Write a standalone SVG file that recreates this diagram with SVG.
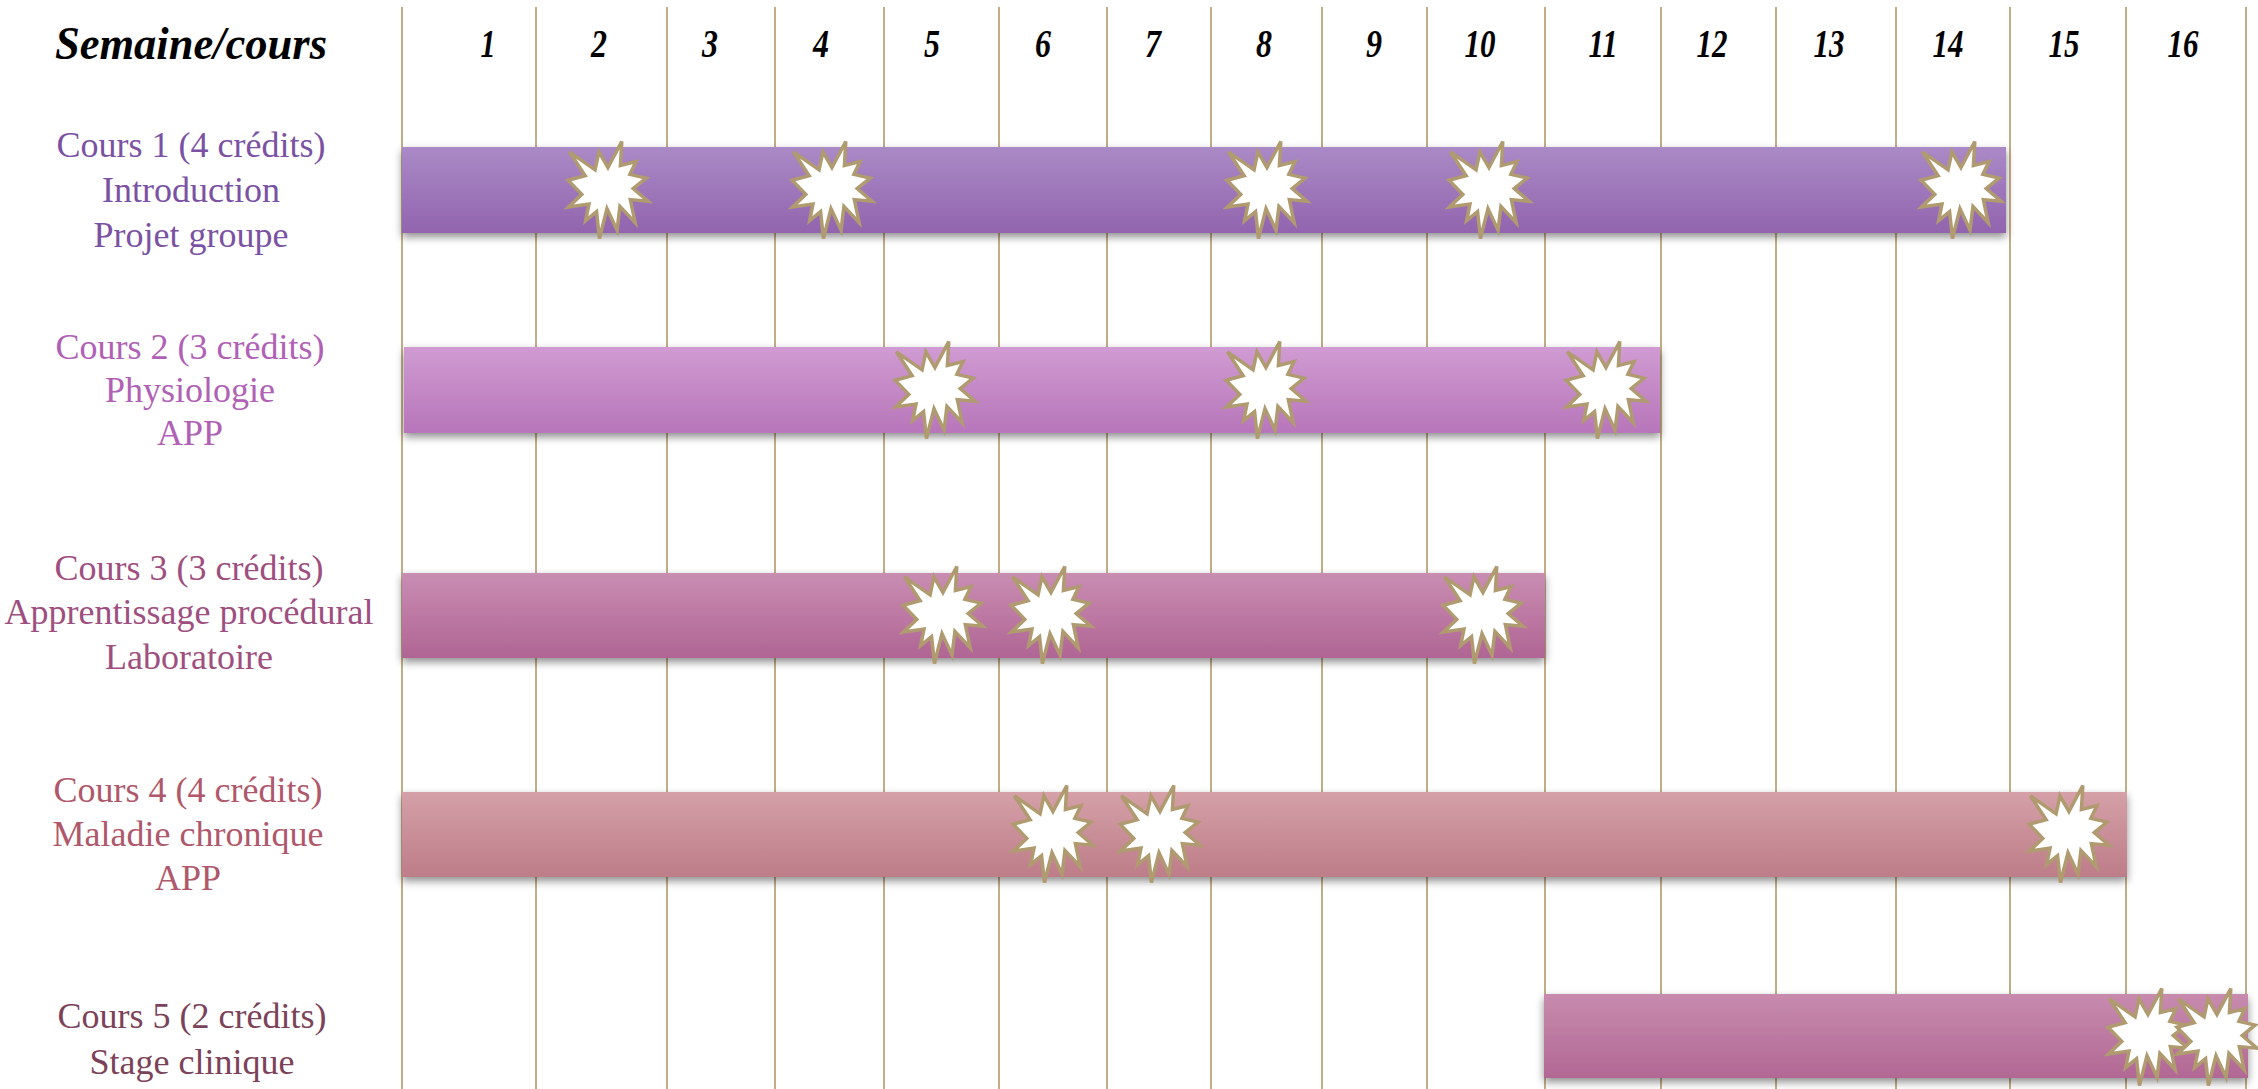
<svg xmlns="http://www.w3.org/2000/svg" xmlns:xlink="http://www.w3.org/1999/xlink" width="2258" height="1089" viewBox="0 0 2258 1089">
<style>
.grid line{stroke:#c2ad86;stroke-width:2}
.hdr{font-family:"Liberation Serif","Times New Roman",serif;font-weight:bold;font-style:italic;fill:#000}
.num{font-size:41px;text-anchor:middle}
.lbl{font-family:"Liberation Serif","Times New Roman",serif;font-size:36px;text-anchor:middle}
.bar{filter:url(#sh)}
.burst{fill:#fff;stroke:#b09b70;stroke-width:3.5;stroke-linejoin:miter}
</style>
<defs>
<filter id="sh" x="-5%" y="-30%" width="110%" height="170%">
<feDropShadow dx="0" dy="4" stdDeviation="4" flood-color="#000" flood-opacity="0.45"/>
</filter>
<linearGradient id="g1" x1="0" y1="0" x2="0" y2="1"><stop offset="0" stop-color="#aa8ac6"/><stop offset="1" stop-color="#9264ae"/></linearGradient>
<linearGradient id="g2" x1="0" y1="0" x2="0" y2="1"><stop offset="0" stop-color="#d09bd2"/><stop offset="1" stop-color="#b776ba"/></linearGradient>
<linearGradient id="g3" x1="0" y1="0" x2="0" y2="1"><stop offset="0" stop-color="#c98db2"/><stop offset="1" stop-color="#b06594"/></linearGradient>
<linearGradient id="g4" x1="0" y1="0" x2="0" y2="1"><stop offset="0" stop-color="#d5a0a8"/><stop offset="1" stop-color="#bd7d89"/></linearGradient>
<linearGradient id="g5" x1="0" y1="0" x2="0" y2="1"><stop offset="0" stop-color="#c78bae"/><stop offset="1" stop-color="#b26894"/></linearGradient>
<path id="burst" class="burst" d="M0,-22.45 L13.79,-48.5 L12.43,-24.59 L28.07,-28.48 L21.86,-15.65 L38.14,-11.96 L25.21,-1.46 L40,11.18 L22.36,9.62 L27.2,32.76 L11.93,16.42 L9.06,40.13 L-0.99,18.57 L-8.57,48.5 L-11.43,21.68 L-22.36,30.61 L-19.01,14.09 L-39.5,17.01 L-26.21,4.38 L-40,-9.81 L-22.86,-14.29 L-38.63,-38.19 L-12.92,-20.12 L-9.07,-38.19 Z"/>
</defs>
<rect width="2258" height="1089" fill="#fff"/>
<g id="grid" class="grid">
<line x1="402" y1="7" x2="402" y2="1089"/>
<line x1="536" y1="7" x2="536" y2="1089"/>
<line x1="667" y1="7" x2="667" y2="1089"/>
<line x1="775" y1="7" x2="775" y2="1089"/>
<line x1="884" y1="7" x2="884" y2="1089"/>
<line x1="999" y1="7" x2="999" y2="1089"/>
<line x1="1107" y1="7" x2="1107" y2="1089"/>
<line x1="1211" y1="7" x2="1211" y2="1089"/>
<line x1="1322" y1="7" x2="1322" y2="1089"/>
<line x1="1427" y1="7" x2="1427" y2="1089"/>
<line x1="1545" y1="7" x2="1545" y2="1089"/>
<line x1="1661" y1="7" x2="1661" y2="1089"/>
<line x1="1776" y1="7" x2="1776" y2="1089"/>
<line x1="1896" y1="7" x2="1896" y2="1089"/>
<line x1="2010" y1="7" x2="2010" y2="1089"/>
<line x1="2126" y1="7" x2="2126" y2="1089"/>
<line x1="2246" y1="7" x2="2246" y2="1089"/>
</g>
<g id="header" class="hdr">
<text x="55" y="59" font-size="46" textLength="272" lengthAdjust="spacingAndGlyphs">Semaine/cours</text>
<g class="num">
<text x="488" y="57" textLength="15" lengthAdjust="spacingAndGlyphs">1</text>
<text x="599" y="57" textLength="16" lengthAdjust="spacingAndGlyphs">2</text>
<text x="710" y="57" textLength="16" lengthAdjust="spacingAndGlyphs">3</text>
<text x="821" y="57" textLength="16" lengthAdjust="spacingAndGlyphs">4</text>
<text x="932" y="57" textLength="16" lengthAdjust="spacingAndGlyphs">5</text>
<text x="1043" y="57" textLength="16" lengthAdjust="spacingAndGlyphs">6</text>
<text x="1153" y="57" textLength="16" lengthAdjust="spacingAndGlyphs">7</text>
<text x="1264" y="57" textLength="16" lengthAdjust="spacingAndGlyphs">8</text>
<text x="1374" y="57" textLength="16" lengthAdjust="spacingAndGlyphs">9</text>
<text x="1480" y="57" textLength="31" lengthAdjust="spacingAndGlyphs">10</text>
<text x="1603" y="57" textLength="29" lengthAdjust="spacingAndGlyphs">11</text>
<text x="1712" y="57" textLength="31" lengthAdjust="spacingAndGlyphs">12</text>
<text x="1829" y="57" textLength="31" lengthAdjust="spacingAndGlyphs">13</text>
<text x="1948" y="57" textLength="31" lengthAdjust="spacingAndGlyphs">14</text>
<text x="2064" y="57" textLength="31" lengthAdjust="spacingAndGlyphs">15</text>
<text x="2183" y="57" textLength="31" lengthAdjust="spacingAndGlyphs">16</text>
</g>
</g>
<g id="cours1">
<text class="lbl" fill="#7b52a3"><tspan x="191" y="157">Cours 1 (4 crédits)</tspan><tspan x="191" y="202">Introduction</tspan><tspan x="191" y="247">Projet groupe</tspan></text>
<rect class="bar" x="402" y="147" width="1604" height="86" fill="url(#g1)"/>
<use xlink:href="#burst" x="608" y="190"/>
<use xlink:href="#burst" x="832" y="190"/>
<use xlink:href="#burst" x="1267" y="190"/>
<use xlink:href="#burst" x="1489" y="190"/>
<use xlink:href="#burst" x="1961" y="190"/>
</g>
<g id="cours2">
<text class="lbl" fill="#b061b5"><tspan x="190" y="359">Cours 2 (3 crédits)</tspan><tspan x="190" y="402">Physiologie</tspan><tspan x="190" y="445">APP</tspan></text>
<rect class="bar" x="404" y="347" width="1256" height="86" fill="url(#g2)"/>
<use xlink:href="#burst" x="935" y="390"/>
<use xlink:href="#burst" x="1266" y="390"/>
<use xlink:href="#burst" x="1606" y="390"/>
</g>
<g id="cours3">
<text class="lbl" fill="#9e4f80"><tspan x="189" y="580">Cours 3 (3 crédits)</tspan><tspan x="189" y="624">Apprentissage procédural</tspan><tspan x="189" y="669">Laboratoire</tspan></text>
<rect class="bar" x="402" y="573" width="1143" height="85" fill="url(#g3)"/>
<use xlink:href="#burst" x="943" y="615"/>
<use xlink:href="#burst" x="1051" y="615"/>
<use xlink:href="#burst" x="1483" y="615"/>
</g>
<g id="cours4">
<text class="lbl" fill="#b0586b"><tspan x="188" y="802">Cours 4 (4 crédits)</tspan><tspan x="188" y="846">Maladie chronique</tspan><tspan x="188" y="890">APP</tspan></text>
<rect class="bar" x="402" y="792" width="1725" height="85" fill="url(#g4)"/>
<use xlink:href="#burst" x="1053" y="834"/>
<use xlink:href="#burst" x="1160" y="834"/>
<use xlink:href="#burst" x="2069" y="834"/>
</g>
<g id="cours5">
<text class="lbl" fill="#7c4259"><tspan x="192" y="1028">Cours 5 (2 crédits)</tspan><tspan x="192" y="1074">Stage clinique</tspan></text>
<rect class="bar" x="1544" y="994" width="704" height="84" fill="url(#g5)"/>
<use xlink:href="#burst" x="2148" y="1037"/>
<use xlink:href="#burst" x="2217" y="1037"/>
</g>
<g id="connectors"/>
</svg>
